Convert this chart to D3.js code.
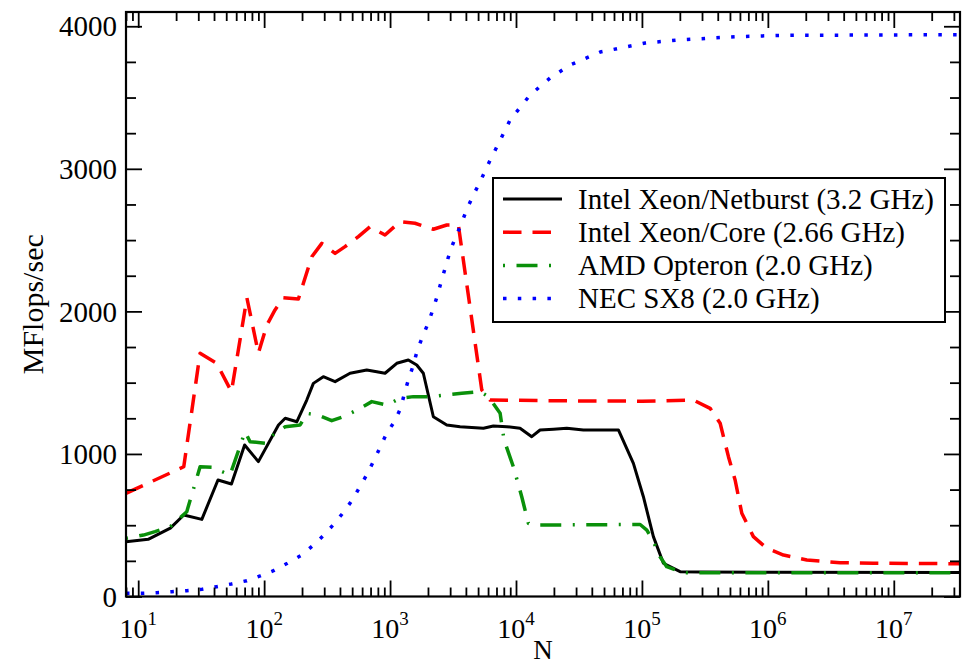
<!DOCTYPE html>
<html>
<head>
<meta charset="utf-8">
<script src="https://cdn.jsdelivr.net/npm/d3@7"></script>
<style>
body { margin: 0; background: #fff; }
text { font-family: "Liberation Serif", "DejaVu Serif", serif; fill: #000; }
</style>
</head>
<body>
<div id="chart"></div>
<script>
// values (N, MFlops/sec)
var netburstN = [8, 12, 18, 23, 32, 43, 55, 70, 90, 130, 147, 182, 218, 246, 295, 366, 481, 653, 784, 912, 1130, 1397, 1629, 1837, 2207, 2820, 3597, 5510, 6610, 8450, 10770, 13340, 15530, 19820, 25310, 34290, 65030, 85560, 102700, 123300, 148100, 201000, 289500, 1000000, 33554432];
var netburstMF = [384, 401, 480, 572, 541, 817, 789, 1063, 946, 1203, 1250, 1226, 1378, 1495, 1542, 1507, 1566, 1589, 1577, 1566, 1636, 1659, 1624, 1566, 1261, 1203, 1191, 1180, 1196, 1191, 1180, 1121, 1168, 1173, 1180, 1168, 1168, 934, 700, 420, 233, 174, 172, 170, 168];

var coreN = [8, 23, 31, 42, 55, 73, 90, 105, 122, 142, 187, 205, 239, 287, 366, 439, 560, 693, 912, 1199, 1578, 2207, 2820, 3485, 5350, 6220, 20000, 100000, 256400, 348000, 418000, 486500, 549500, 621000, 767600, 981000, 1330000, 2040000, 3750000, 6900000, 33554432];
var coreMF = [724, 910, 1706, 1636, 1437, 2094, 1706, 1904, 2010, 2096, 2087, 2197, 2383, 2477, 2407, 2454, 2524, 2594, 2536, 2629, 2618, 2576, 2606, 2606, 1449, 1378, 1373, 1370, 1378, 1320, 1215, 981, 817, 584, 420, 338, 291, 256, 237, 233, 230];

var opteronN = [8, 11, 13.6, 18, 24.3, 26.6, 31, 38.4, 53.6, 70.5, 77.3, 105, 118, 147, 193, 218, 269, 344, 439, 560, 716, 942, 1199, 1531, 2078, 2734, 3710, 5180, 6035, 7480, 8040, 9530, 11110, 12540, 13740, 96800, 109400, 123300, 139300, 157400, 201000, 227000, 33554432];
var opteronMF = [408, 431, 455, 490, 595, 712, 910, 906, 852, 1156, 1086, 1074, 1133, 1191, 1203, 1285, 1273, 1233, 1266, 1313, 1367, 1343, 1390, 1402, 1402, 1413, 1425, 1437, 1402, 1285, 1098, 910, 700, 513, 501, 505, 466, 385, 279, 209, 174, 167, 167];

var sx8N = [8, 10.7, 14, 18.5, 24.3, 32, 42, 55, 73, 93, 120, 153, 195, 242, 295, 355, 421, 497, 570, 653, 741, 832, 934, 1081, 1216, 1300, 1397, 1531, 1648, 1818, 2015, 2207, 2392, 2575, 2787, 3015, 3345, 3712, 4066, 4590, 5190, 6225, 7480, 8980, 12940, 18660, 26900, 46600, 106000, 186600, 323400, 559800, 1290000, 33554432];
var sx8MF = [22, 22, 27, 34, 41, 50, 69, 88, 111, 144, 183, 233, 286, 354, 427, 504, 584, 672, 763, 854, 951, 1044, 1140, 1226, 1322, 1425, 1519, 1624, 1729, 1827, 1921, 2022, 2120, 2225, 2325, 2431, 2529, 2622, 2716, 2816, 2910, 3060, 3200, 3343, 3518, 3637, 3728, 3819, 3882, 3903, 3915, 3927, 3936, 3941];

var seriesNames = ["Intel Xeon/Netburst (3.2 GHz)", "Intel Xeon/Core (2.66 GHz)", "AMD Opteron (2.0 GHz)", "NEC SX8 (2.0 GHz)"];
var yTicks = [0, 1000, 2000, 3000, 4000];
var xDecades = [1, 2, 3, 4, 5, 6, 7];

var width = 962, height = 667;
var plotLeft = 126, plotRight = 960, plotTop = 12, plotBottom = 596.5;

var svg = d3.select("#chart").append("svg")
    .attr("width", width)
    .attr("height", height);

var x = d3.scaleLog().domain([8, 33554432]).range([plotLeft, plotRight]);
var y = d3.scaleLinear().domain([0, 4100]).range([plotBottom, plotTop]);

var styles = [
    {color: "#000000", w: 3, dash: null},
    {color: "#ff0000", w: 3.5, dash: "18.5,11"},
    {color: "#0a900a", w: 3.5, dash: "2,11.5,21,11.5"},
    {color: "#0000ff", w: 3.5, dash: "3.5,11.3"}
];
var data = [
    d3.zip(netburstN, netburstMF),
    d3.zip(coreN, coreMF),
    d3.zip(opteronN, opteronMF),
    d3.zip(sx8N, sx8MF)
];

svg.append("clipPath").attr("id", "plotclip")
    .append("rect")
    .attr("x", plotLeft).attr("y", plotTop)
    .attr("width", plotRight - plotLeft).attr("height", plotBottom - plotTop);

var line = d3.line().x(d => x(d[0])).y(d => y(d[1]));

var plot = svg.append("g").attr("clip-path", "url(#plotclip)");
data.forEach(function (d, i) {
    plot.append("path")
        .datum(d)
        .attr("d", line)
        .attr("fill", "none")
        .attr("stroke", styles[i].color)
        .attr("stroke-width", styles[i].w)
        .attr("stroke-linejoin", "round")
        .attr("stroke-dasharray", styles[i].dash);
});

// ticks (inward on all four sides)
var xMajor = xDecades.map(k => Math.pow(10, k));
var xMinor = [];
for (var k = 0; k <= 7; k++) {
    for (var m = 2; m <= 9; m++) {
        var v = m * Math.pow(10, k);
        if (v >= 8 && v <= 33554432) xMinor.push(v);
    }
}
var yMinor = d3.range(250, 4100, 250).filter(v => v % 1000 != 0);

function tickAxis(gen, t, vals, size) {
    var g = svg.append("g")
        .attr("transform", t)
        .call(gen.tickValues(vals).tickSize(-size).tickFormat(""));
    g.select(".domain").remove();
    g.selectAll("line").attr("stroke", "#000").attr("stroke-width", 1.8);
}
tickAxis(d3.axisBottom(x), `translate(0,${plotBottom})`, xMinor, 9);
tickAxis(d3.axisBottom(x), `translate(0,${plotBottom})`, xMajor, 16);
tickAxis(d3.axisTop(x), `translate(0,${plotTop})`, xMinor, 9);
tickAxis(d3.axisTop(x), `translate(0,${plotTop})`, xMajor, 16);
tickAxis(d3.axisLeft(y), `translate(${plotLeft},0)`, yMinor, 10);
tickAxis(d3.axisLeft(y), `translate(${plotLeft},0)`, yTicks, 16);
tickAxis(d3.axisRight(y), `translate(${plotRight},0)`, yMinor, 10);
tickAxis(d3.axisRight(y), `translate(${plotRight},0)`, yTicks, 16);

svg.append("rect")
    .attr("x", plotLeft).attr("y", plotTop)
    .attr("width", plotRight - plotLeft).attr("height", plotBottom - plotTop)
    .attr("fill", "none")
    .attr("stroke", "#000")
    .attr("stroke-width", 2.2);

// tick labels
svg.selectAll(".ylab").data(yTicks).enter()
    .append("text")
    .attr("class", "ylab")
    .attr("x", plotLeft - 9)
    .attr("y", d => y(d))
    .attr("dy", "0.35em")
    .attr("text-anchor", "end")
    .style("font-size", "29px")
    .text(d => d);

var xl = svg.selectAll(".xlab").data(xDecades).enter()
    .append("text")
    .attr("class", "xlab")
    .attr("x", d => x(Math.pow(10, d)))
    .attr("y", 638)
    .attr("text-anchor", "middle")
    .style("font-size", "28px");
xl.append("tspan").text("10");
xl.append("tspan").attr("dy", -13).style("font-size", "19px").text(d => d);

svg.append("text")
    .attr("x", (plotLeft + plotRight) / 2)
    .attr("y", 659)
    .attr("text-anchor", "middle")
    .style("font-size", "27px")
    .text("N");

svg.append("text")
    .attr("transform", `translate(43,${(plotTop + plotBottom) / 2})rotate(-90)`)
    .attr("text-anchor", "middle")
    .style("font-size", "30px")
    .text("MFlops/sec");

// legend
var legend = svg.append("g");
legend.append("rect")
    .attr("x", 493).attr("y", 178)
    .attr("width", 452).attr("height", 144)
    .attr("fill", "#fff")
    .attr("stroke", "#000")
    .attr("stroke-width", 2);

seriesNames.forEach(function (name, i) {
    var ly = 199 + i * 33.2;
    legend.append("line")
        .attr("x1", 503).attr("x2", 562)
        .attr("y1", ly).attr("y2", ly)
        .attr("stroke", styles[i].color)
        .attr("stroke-width", styles[i].w)
        .attr("stroke-dasharray", styles[i].dash);
    legend.append("text")
        .attr("x", 578)
        .attr("y", ly)
        .attr("dy", "0.33em")
        .style("font-size", "29px")
        .text(name);
});
</script>
</body>
</html>
